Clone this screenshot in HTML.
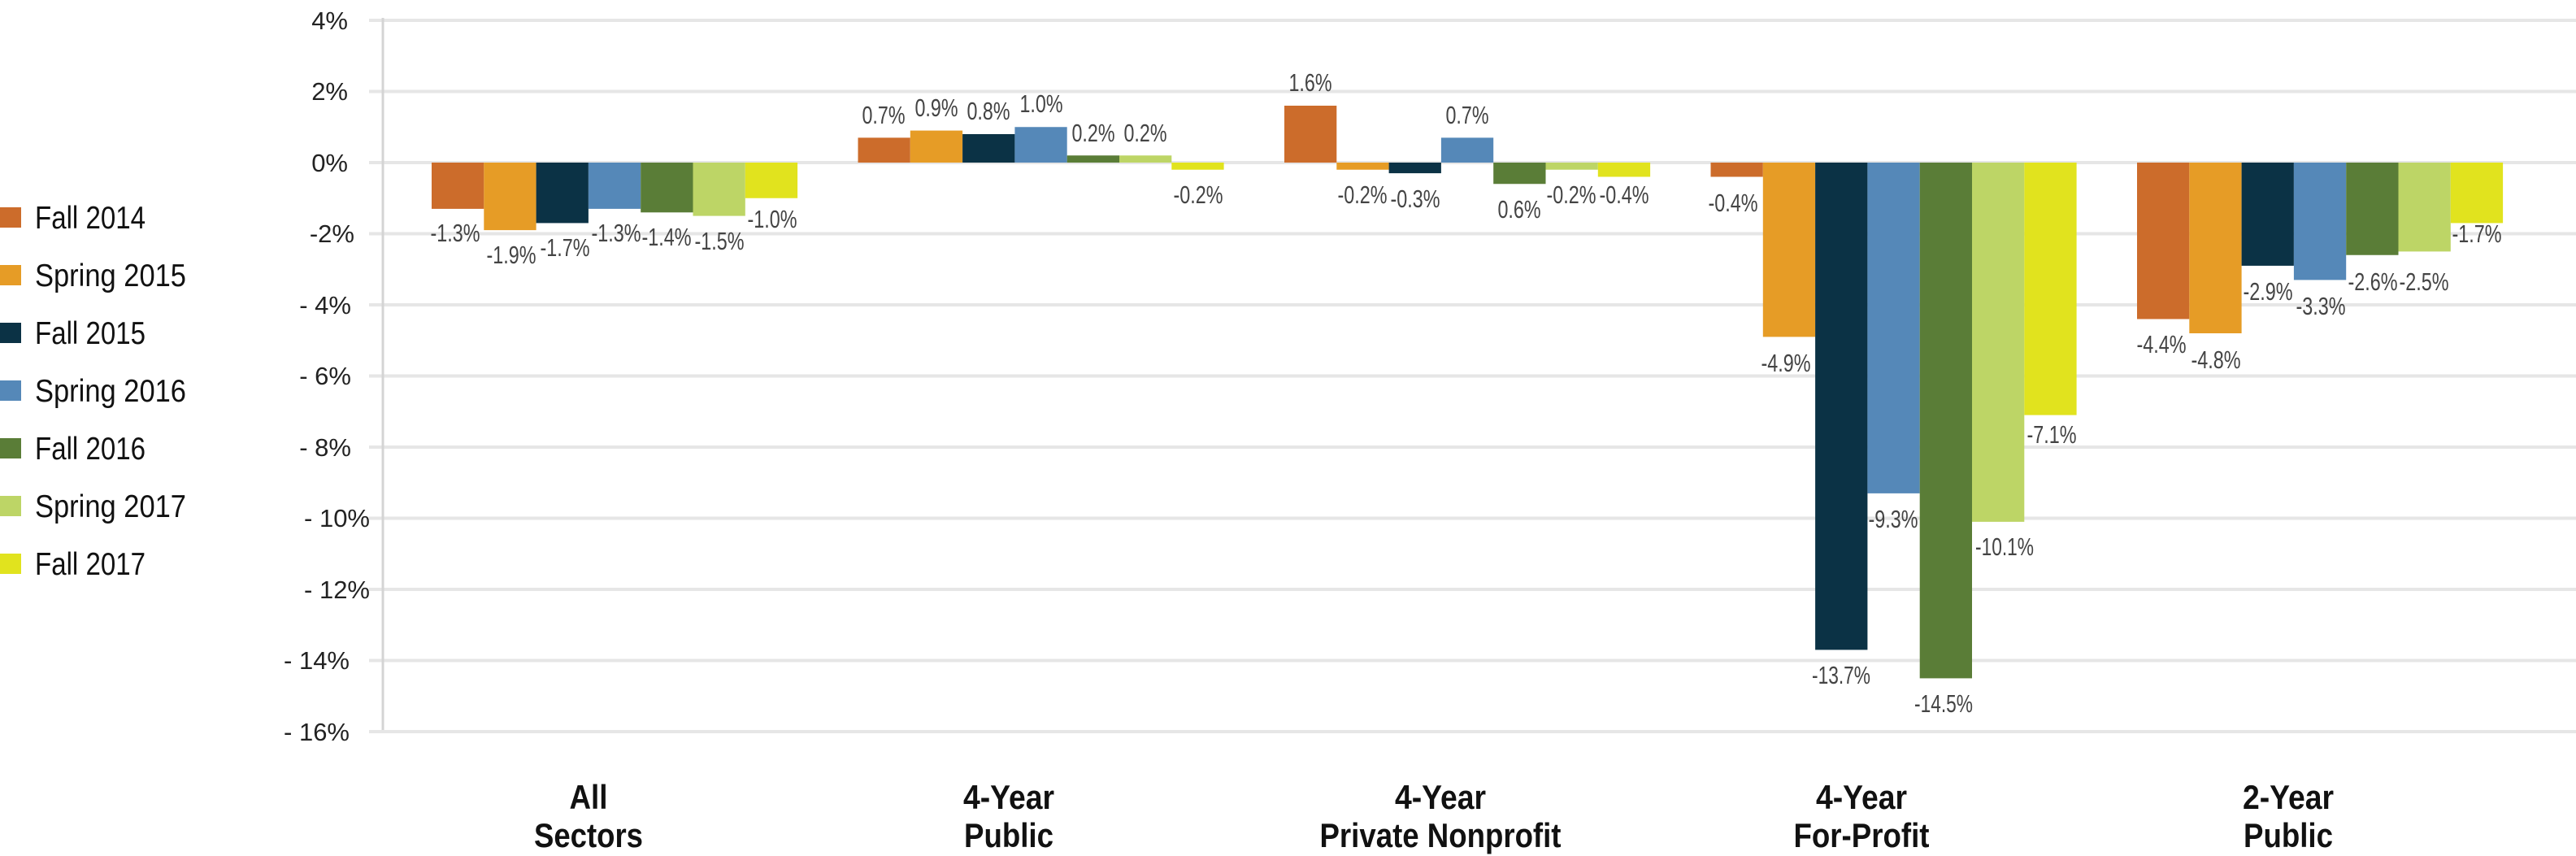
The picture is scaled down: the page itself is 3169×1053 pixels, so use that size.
<!DOCTYPE html>
<html><head><meta charset="utf-8"><style>
html,body{margin:0;padding:0;background:#fff;}
svg{display:block;}
.t{font-family:"Liberation Sans",sans-serif;font-size:31px;fill:#222;text-anchor:end;}
.d{font-family:"Liberation Sans Narrow","Liberation Sans",sans-serif;font-size:31px;fill:#444;text-anchor:middle;}
.l{font-family:"Liberation Sans Narrow","Liberation Sans",sans-serif;font-size:39px;fill:#111;}
.c{font-family:"Liberation Sans Narrow","Liberation Sans",sans-serif;font-size:42px;font-weight:bold;fill:#111;text-anchor:middle;}
</style></head><body>
<svg width="3169" height="1053" viewBox="0 0 3169 1053" xmlns="http://www.w3.org/2000/svg">
<g stroke="#e6e6e6" stroke-width="4">
<line x1="454" y1="25" x2="3169" y2="25"/><line x1="454" y1="112.5" x2="3169" y2="112.5"/>
<line x1="454" y1="200" x2="3169" y2="200"/><line x1="454" y1="287.5" x2="3169" y2="287.5"/>
<line x1="454" y1="375" x2="3169" y2="375"/><line x1="454" y1="462.5" x2="3169" y2="462.5"/>
<line x1="454" y1="550" x2="3169" y2="550"/><line x1="454" y1="637.5" x2="3169" y2="637.5"/>
<line x1="454" y1="725" x2="3169" y2="725"/><line x1="454" y1="812.5" x2="3169" y2="812.5"/>
<line x1="454" y1="900" x2="3169" y2="900"/>
</g>
<line x1="471" y1="22" x2="471" y2="898" stroke="#d4d4d4" stroke-width="3"/>
<g class="t">
<text x="428" y="36">4%</text><text x="428" y="123">2%</text><text x="428" y="211">0%</text>
<text x="436" y="298">-2%</text><text x="432" y="386">- 4%</text><text x="432" y="473">- 6%</text>
<text x="432" y="561">- 8%</text><text x="455" y="648">- 10%</text><text x="455" y="736">- 12%</text>
<text x="430" y="823">- 14%</text><text x="430" y="911">- 16%</text>
</g>
<!-- legend -->
<g class="l">
<rect x="0" y="255" width="26" height="25" fill="#cc6c2b"/><text x="43" y="281" textLength="136" lengthAdjust="spacingAndGlyphs">Fall 2014</text>
<rect x="0" y="326" width="26" height="25" fill="#e69c26"/><text x="43" y="352" textLength="186" lengthAdjust="spacingAndGlyphs">Spring 2015</text>
<rect x="0" y="397" width="26" height="25" fill="#0b3245"/><text x="43" y="423" textLength="136" lengthAdjust="spacingAndGlyphs">Fall 2015</text>
<rect x="0" y="468" width="26" height="25" fill="#5588b8"/><text x="43" y="494" textLength="186" lengthAdjust="spacingAndGlyphs">Spring 2016</text>
<rect x="0" y="539" width="26" height="25" fill="#5a7d37"/><text x="43" y="565" textLength="136" lengthAdjust="spacingAndGlyphs">Fall 2016</text>
<rect x="0" y="610" width="26" height="25" fill="#bdd566"/><text x="43" y="636" textLength="186" lengthAdjust="spacingAndGlyphs">Spring 2017</text>
<rect x="0" y="681" width="26" height="25" fill="#e1e31e"/><text x="43" y="707" textLength="136" lengthAdjust="spacingAndGlyphs">Fall 2017</text>
</g>
<!-- g0 -->
<rect x="531" y="200" width="64.3" height="56.9" fill="#cc6c2b"/>
<rect x="595.3" y="200" width="64.3" height="83.1" fill="#e69c26"/>
<rect x="659.6" y="200" width="64.3" height="74.4" fill="#0b3245"/>
<rect x="723.9" y="200" width="64.3" height="56.9" fill="#5588b8"/>
<rect x="788.2" y="200" width="64.3" height="61.3" fill="#5a7d37"/>
<rect x="852.5" y="200" width="64.3" height="65.6" fill="#bdd566"/>
<rect x="916.8" y="200" width="64.3" height="43.75" fill="#e1e31e"/>
<g class="d">
<text x="560" y="297" textLength="61" lengthAdjust="spacingAndGlyphs">-1.3%</text>
<text x="629" y="324" textLength="61" lengthAdjust="spacingAndGlyphs">-1.9%</text>
<text x="695" y="315" textLength="61" lengthAdjust="spacingAndGlyphs">-1.7%</text>
<text x="758" y="297" textLength="61" lengthAdjust="spacingAndGlyphs">-1.3%</text>
<text x="820" y="302" textLength="61" lengthAdjust="spacingAndGlyphs">-1.4%</text>
<text x="885" y="307" textLength="61" lengthAdjust="spacingAndGlyphs">-1.5%</text>
<text x="950" y="280" textLength="61" lengthAdjust="spacingAndGlyphs">-1.0%</text>
</g>
<!-- g1 -->
<rect x="1055.5" y="169.4" width="64.3" height="30.6" fill="#cc6c2b"/>
<rect x="1119.8" y="160.6" width="64.3" height="39.4" fill="#e69c26"/>
<rect x="1184.1" y="165" width="64.3" height="35" fill="#0b3245"/>
<rect x="1248.4" y="156.25" width="64.3" height="43.75" fill="#5588b8"/>
<rect x="1312.7" y="191.25" width="64.3" height="8.75" fill="#5a7d37"/>
<rect x="1377" y="191.25" width="64.3" height="8.75" fill="#bdd566"/>
<rect x="1441.3" y="200" width="64.3" height="8.75" fill="#e1e31e"/>
<g class="d">
<text x="1087" y="152" textLength="53" lengthAdjust="spacingAndGlyphs">0.7%</text>
<text x="1152" y="143" textLength="53" lengthAdjust="spacingAndGlyphs">0.9%</text>
<text x="1216" y="147" textLength="53" lengthAdjust="spacingAndGlyphs">0.8%</text>
<text x="1281" y="138" textLength="53" lengthAdjust="spacingAndGlyphs">1.0%</text>
<text x="1345" y="174" textLength="53" lengthAdjust="spacingAndGlyphs">0.2%</text>
<text x="1409" y="174" textLength="53" lengthAdjust="spacingAndGlyphs">0.2%</text>
<text x="1474" y="250" textLength="61" lengthAdjust="spacingAndGlyphs">-0.2%</text>
</g>
<!-- g2 -->
<rect x="1580" y="130" width="64.3" height="70" fill="#cc6c2b"/>
<rect x="1644.3" y="200" width="64.3" height="8.75" fill="#e69c26"/>
<rect x="1708.6" y="200" width="64.3" height="13.1" fill="#0b3245"/>
<rect x="1772.9" y="169.4" width="64.3" height="30.6" fill="#5588b8"/>
<rect x="1837.2" y="200" width="64.3" height="26.25" fill="#5a7d37"/>
<rect x="1901.5" y="200" width="64.3" height="8.75" fill="#bdd566"/>
<rect x="1965.8" y="200" width="64.3" height="17.5" fill="#e1e31e"/>
<g class="d">
<text x="1612" y="112" textLength="53" lengthAdjust="spacingAndGlyphs">1.6%</text>
<text x="1676" y="250" textLength="61" lengthAdjust="spacingAndGlyphs">-0.2%</text>
<text x="1741" y="255" textLength="61" lengthAdjust="spacingAndGlyphs">-0.3%</text>
<text x="1805" y="152" textLength="53" lengthAdjust="spacingAndGlyphs">0.7%</text>
<text x="1869" y="268" textLength="53" lengthAdjust="spacingAndGlyphs">0.6%</text>
<text x="1933" y="250" textLength="61" lengthAdjust="spacingAndGlyphs">-0.2%</text>
<text x="1998" y="250" textLength="61" lengthAdjust="spacingAndGlyphs">-0.4%</text>
</g>
<!-- g3 -->
<rect x="2104.5" y="200" width="64.3" height="17.5" fill="#cc6c2b"/>
<rect x="2168.8" y="200" width="64.3" height="214.4" fill="#e69c26"/>
<rect x="2233.1" y="200" width="64.3" height="599.4" fill="#0b3245"/>
<rect x="2297.4" y="200" width="64.3" height="406.9" fill="#5588b8"/>
<rect x="2361.7" y="200" width="64.3" height="634.4" fill="#5a7d37"/>
<rect x="2426" y="200" width="64.3" height="441.9" fill="#bdd566"/>
<rect x="2490.3" y="200" width="64.3" height="310.6" fill="#e1e31e"/>
<g class="d">
<text x="2132" y="260" textLength="61" lengthAdjust="spacingAndGlyphs">-0.4%</text>
<text x="2197" y="457" textLength="61" lengthAdjust="spacingAndGlyphs">-4.9%</text>
<text x="2265" y="841" textLength="72" lengthAdjust="spacingAndGlyphs">-13.7%</text>
<text x="2329" y="649" textLength="61" lengthAdjust="spacingAndGlyphs">-9.3%</text>
<text x="2391" y="876" textLength="72" lengthAdjust="spacingAndGlyphs">-14.5%</text>
<text x="2466" y="683" textLength="72" lengthAdjust="spacingAndGlyphs">-10.1%</text>
<text x="2524" y="545" textLength="61" lengthAdjust="spacingAndGlyphs">-7.1%</text>
</g>
<!-- g4 -->
<rect x="2629" y="200" width="64.3" height="192.5" fill="#cc6c2b"/>
<rect x="2693.3" y="200" width="64.3" height="210" fill="#e69c26"/>
<rect x="2757.6" y="200" width="64.3" height="126.9" fill="#0b3245"/>
<rect x="2821.9" y="200" width="64.3" height="144.4" fill="#5588b8"/>
<rect x="2886.2" y="200" width="64.3" height="113.75" fill="#5a7d37"/>
<rect x="2950.5" y="200" width="64.3" height="109.4" fill="#bdd566"/>
<rect x="3014.8" y="200" width="64.3" height="74.4" fill="#e1e31e"/>
<g class="d">
<text x="2659" y="434" textLength="61" lengthAdjust="spacingAndGlyphs">-4.4%</text>
<text x="2726" y="453" textLength="61" lengthAdjust="spacingAndGlyphs">-4.8%</text>
<text x="2790" y="369" textLength="61" lengthAdjust="spacingAndGlyphs">-2.9%</text>
<text x="2855" y="387" textLength="61" lengthAdjust="spacingAndGlyphs">-3.3%</text>
<text x="2919" y="357" textLength="61" lengthAdjust="spacingAndGlyphs">-2.6%</text>
<text x="2982" y="357" textLength="61" lengthAdjust="spacingAndGlyphs">-2.5%</text>
<text x="3047" y="298" textLength="61" lengthAdjust="spacingAndGlyphs">-1.7%</text>
</g>
<!-- categories -->
<g class="c">
<text x="724" y="995" textLength="47" lengthAdjust="spacingAndGlyphs">All</text>
<text x="724" y="1042" textLength="134" lengthAdjust="spacingAndGlyphs">Sectors</text>
<text x="1241" y="995" textLength="112" lengthAdjust="spacingAndGlyphs">4-Year</text>
<text x="1241" y="1042" textLength="110" lengthAdjust="spacingAndGlyphs">Public</text>
<text x="1772" y="995" textLength="112" lengthAdjust="spacingAndGlyphs">4-Year</text>
<text x="1772" y="1042" textLength="297" lengthAdjust="spacingAndGlyphs">Private Nonprofit</text>
<text x="2290" y="995" textLength="112" lengthAdjust="spacingAndGlyphs">4-Year</text>
<text x="2290" y="1042" textLength="167" lengthAdjust="spacingAndGlyphs">For-Profit</text>
<text x="2815" y="995" textLength="112" lengthAdjust="spacingAndGlyphs">2-Year</text>
<text x="2815" y="1042" textLength="110" lengthAdjust="spacingAndGlyphs">Public</text>
</g>
</svg>
</body></html>
